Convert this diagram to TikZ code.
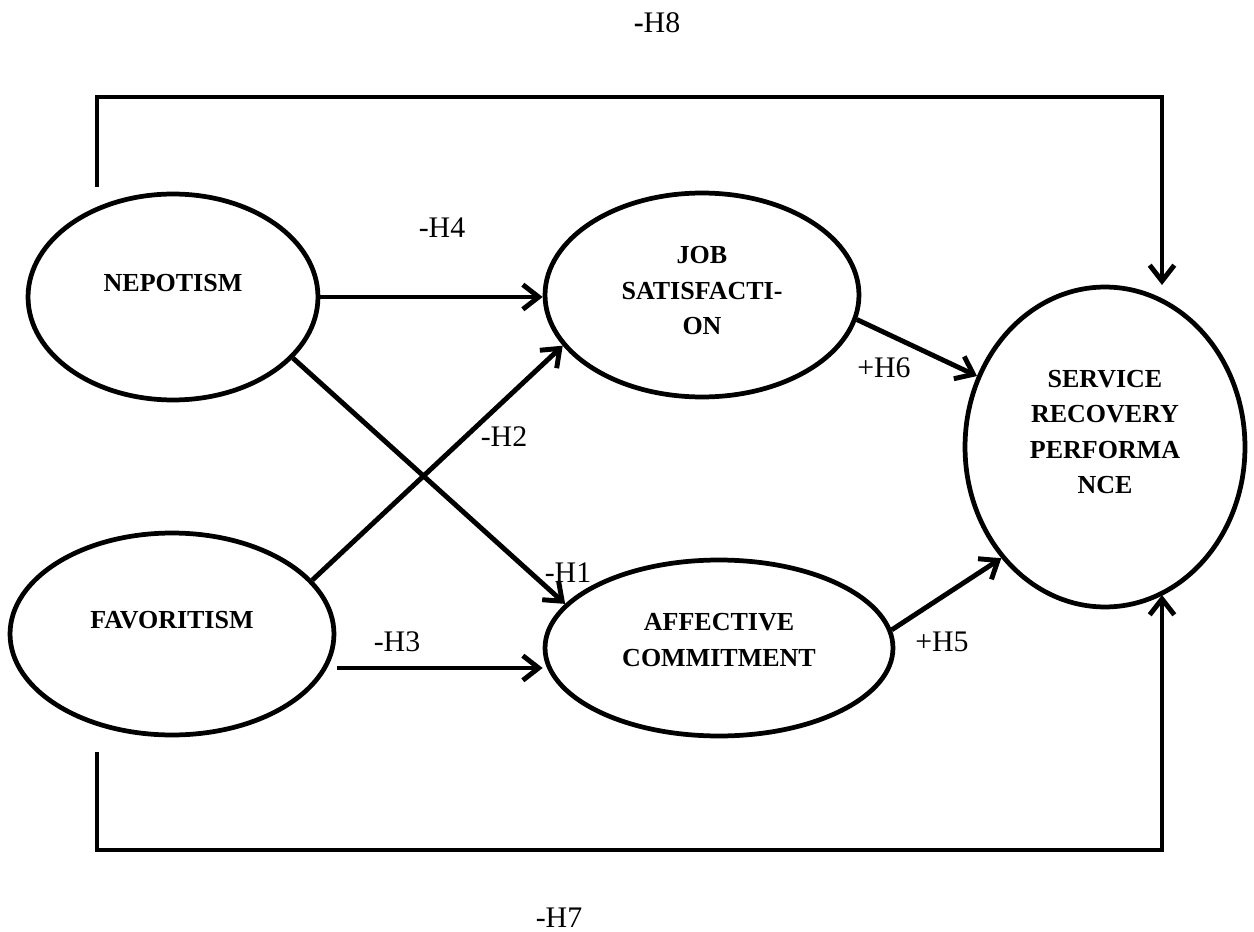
\documentclass[tikz,border=0pt]{standalone}
\usepackage{fontspec}
\setmainfont{Liberation Serif}
\usetikzlibrary{shapes.geometric,arrows.meta}
\begin{document}
\begin{tikzpicture}[x=0.02cm,y=-0.02cm,
  construct/.style={ellipse, draw, line width=2.7pt, inner sep=0pt},
  ctext/.style={font=\bfseries\fontsize{14.8}{20.2}\selectfont, align=center, inner sep=0pt},
  hyp/.style={font=\fontsize{17}{20}\selectfont, inner sep=0pt},
  barb/.style={-{Straight Barb[length=9pt,width=14pt]}},
  link/.style={line width=2.8pt, barb},
  frame/.style={line width=2.8pt, line join=miter}]
\useasboundingbox (0,0) rectangle (1254,932);
% constructs
\node[construct, minimum width=5.8cm, minimum height=4.12cm] (nep) at (173,297) {};
\node[construct, minimum width=6.48cm, minimum height=4.04cm] (fav) at (172,634) {};
\node[construct, minimum width=6.28cm, minimum height=4.08cm] (job) at (702,295) {};
\node[construct, minimum width=6.96cm, minimum height=3.52cm] (ac) at (719,648) {};
\node[construct, minimum width=5.6cm, minimum height=6.4cm] (srp) at (1105,447) {};
% construct texts
\node[ctext] (nepT) at (173,283) {NEPOTISM};
\node[ctext] (favT) at (172,620) {FAVORITISM};
\node[ctext] (jobT) at (702,291) {JOB\\SATISFACTI-\\ON};
\node[ctext] (acT) at (719,640) {AFFECTIVE\\COMMITMENT};
\node[ctext] (srpT) at (1105,432) {SERVICE\\RECOVERY\\PERFORMA\\NCE};
% direct paths
\draw[link] (nep.east) -- (nep.east -| job.west);
\draw[link] (nep.-27) -- (ac.164);
\draw[link] (fav.21) -- (job.200);
\coordinate (h3s) at (337,668);
\draw[link] (h3s) -- (h3s -| ac.west);
\draw[link] (job.-9) -- (srp.151);
\draw[link] (ac.6) -- (srp.-133);
% outer brackets
\coordinate (tl) at (97,187);
\coordinate (tc1) at (97,97);
\coordinate (tc2) at (1162,97);
\coordinate (tEnd) at (1162,285);
\draw[frame] (tl) -- (tc1) -- (tc2) -- (1162,200);
\draw[link] (1162,200) -- (tEnd);
\coordinate (bl) at (97,752);
\coordinate (bc1) at (97,850);
\coordinate (bc2) at (1162,850);
\coordinate (bEnd) at (1162,595);
\draw[frame] (bl) -- (bc1) -- (bc2) -- (1162,700);
\draw[link] (1162,700) -- (bEnd);
% hypothesis labels
\node[hyp] (h8) at (657,23) {\textbf{-}H8};
\node[hyp] (h4) at (442,228) {-H4};
\node[hyp] (h6) at (884,368) {+H6};
\node[hyp] (h2) at (504,437) {-H2};
\node[hyp] (h1) at (568,573) {-H1};
\node[hyp] (h3) at (397,642) {-H3};
\node[hyp] (h5) at (942,642) {+H5};
\node[hyp] (h7) at (559,918) {-H7};
\end{tikzpicture}
\end{document}
